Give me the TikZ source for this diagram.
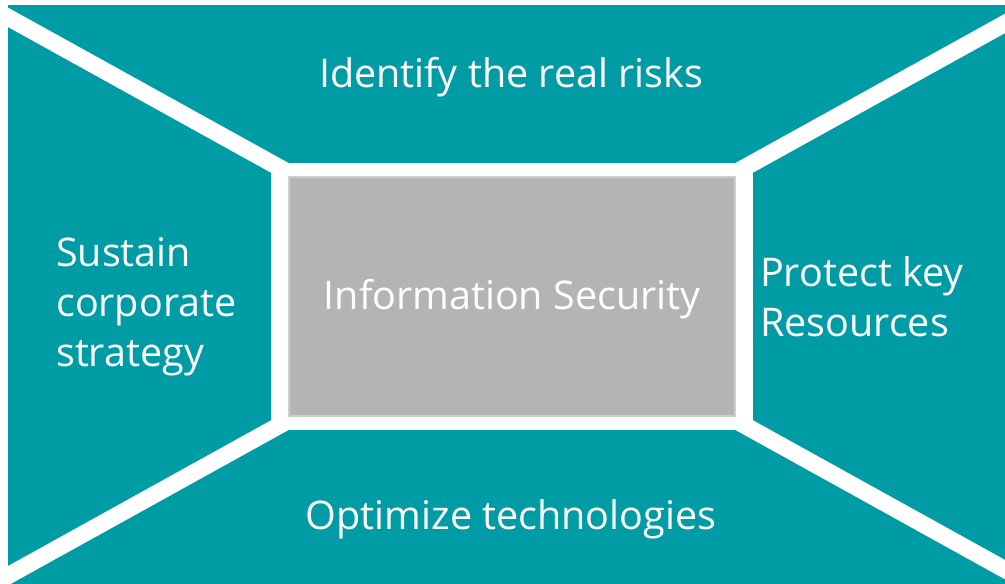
\documentclass[tikz,border=0pt]{standalone}
\usepackage{fontspec}
\setmainfont{Open Sans}
\definecolor{panelteal}{RGB}{0,156,165}
\definecolor{coregray}{RGB}{180,180,180}
\definecolor{coreedge}{RGB}{205,205,205}
\tikzset{
  sep/.style={white, line width=17pt},
  caption/.style={text=white, inner sep=0pt, font=\fontsize{39.5}{50}\selectfont}
}
\begin{document}
\begin{tikzpicture}[x=1pt, y=-1pt]
    \useasboundingbox (0,0) rectangle (1005,584);
    % Teal background panels
    \fill[panelteal] (8,5) rectangle (1005,584);
    
    % Diagonal separators through the centre
    \coordinate (mid) at (512,296.5);
    \coordinate (ul) at (-20,1.8);
    \coordinate (ur) at (1040,4);
    \coordinate (ll) at (-20,591.2);
    \coordinate (lr) at (1040,589);
    \draw[sep] (mid) -- (ul);
    \draw[sep] (mid) -- (ur);
    \draw[sep] (mid) -- (ll);
    \draw[sep] (mid) -- (lr);
    
    % Central block
    \node[fill=white, minimum width=482pt, minimum height=267pt, inner sep=0pt] (frame) at (mid) {};
    \node[draw=coreedge, line width=1.5pt, fill=coregray, minimum width=446pt, minimum height=239pt] (core) at (frame.center) {};
    \node[caption] (corelabel) at ([yshift=-3pt]core.center) {Information Security};
    
    % Panel captions
    \node[caption] (risks) at (511,77) {Identify the real risks};
    \node[caption] (tech) at (511,519) {Optimize technologies};
    \node[caption, align=left, anchor=west] (strategy) at (56,307) {Sustain\\corporate\\strategy};
    \node[caption, align=left, anchor=west] (resources) at (760,297) {Protect key\\Resources};
    
\end{tikzpicture}
\end{document}
